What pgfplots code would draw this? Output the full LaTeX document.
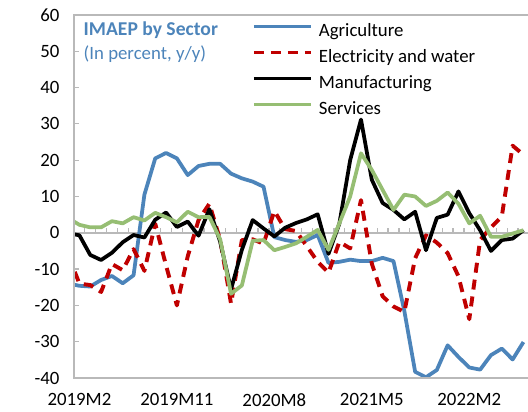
\documentclass[border=0pt]{standalone}
\usepackage{pgfplots}
\pgfplotsset{compat=1.18}
\usepackage{pgfplotstable}
\usepackage{fontspec}
\setmainfont{Carlito}
\definecolor{agri}{RGB}{76,132,186}
\definecolor{elec}{RGB}{192,0,0}
\definecolor{serv}{RGB}{150,190,115}
\definecolor{axgray}{RGB}{185,185,185}

% k = month index (0 = 2019M2); k=-1 is the partly visible previous month
\pgfplotstableread{
k agri elec manu serv
-1 -14.0 -6.4 -0.1 4.0
0 -14.6 -14.0 -0.7 2.2
1 -14.8 -14.4 -6.1 1.5
2 -13.0 -16.3 -7.5 1.5
3 -11.9 -8.6 -5.5 3.2
4 -13.9 -10.3 -2.6 2.6
5 -11.7 -4.5 -0.6 4.3
6 10.5 -10.5 -1.3 3.4
7 20.5 2.5 3.6 5.5
8 22.0 -9.0 5.6 4.3
9 20.5 -20.0 1.6 2.9
10 15.9 -6.5 3.1 5.8
11 18.4 3.5 -0.8 4.3
12 19.0 8.0 6.5 4.4
13 19.0 -2.0 -2.5 -1.8
14 16.3 -19.5 -15.6 -16.8
15 15.0 -2.0 -4.7 -14.5
16 14.1 -1.8 3.5 -2.2
17 12.7 -3.0 1.2 -2.0
18 -1.2 6.0 -1.0 -4.8
19 -2.0 1.0 1.4 -3.9
20 -2.5 0.5 2.7 -2.9
21 -2.0 -3.7 3.7 -1.1
22 -0.6 -8.0 5.1 0.8
23 -8.3 -11.0 -5.8 -4.7
24 -8.0 -2.5 2.5 2.6
25 -7.4 -4.3 20.0 10.0
26 -7.8 9.0 31.2 21.9
27 -7.8 -8.5 14.6 17.3
28 -6.9 -17.5 8.2 11.8
29 -7.8 -20.3 6.3 6.3
30 -21.5 -21.8 3.7 10.5
31 -38.3 -7.0 5.8 10.0
32 -39.8 -0.7 -4.8 7.4
33 -37.8 -2.7 4.1 8.8
34 -31.0 -5.6 5.0 11.1
35 -34.2 -12.0 11.4 8.0
36 -37.1 -23.8 5.4 2.6
37 -37.7 -2.0 0.7 4.7
38 -33.7 1.5 -5.0 -1.1
39 -31.9 4.5 -2.0 -1.1
40 -34.9 24.0 -1.6 -0.2
41 -30.1 21.5 0.7 0.7
}\data

\begin{document}
\begin{tikzpicture}
\path[use as bounding box] (-74bp,-34bp) rectangle (454bp,378bp);
\begin{axis}[
  name=ax, at={(0,0)}, anchor=south west,
  scale only axis, width=454bp, height=363bp,
  xmin=-0.5, xmax=41.42, ymin=-40, ymax=60,
  axis line style={draw=none},
  ytick={-40,-30,...,60},
  ytick pos=left,
  xtick={0,9,18,27,36},
  xticklabels={2019M2,2019M11,2020M8,2021M5,2022M2},
  xtick pos=bottom,
  x tick style={draw=none},
  tick align=inside,
  major tick length=5bp,
  y tick style={axgray, line width=1.2bp},
  extra y ticks={0}, extra y tick labels={},
  extra y tick style={grid=major},
  major grid style={axgray, line width=1.6bp},
  font=\fontsize{18.8bp}{22bp}\selectfont,
  tick label style={font=\fontsize{18.8bp}{22bp}\selectfont},
  /pgf/number format/assume math mode=true,
  yticklabel style={xshift=-11bp},
  xticklabel style={yshift=-12bp},
  legend style={at={(0,1)}, anchor=north west, xshift=178bp, yshift=-9bp,
    draw=none, fill=none, inner sep=0pt, outer sep=0pt,
    row sep=9bp, column sep=6bp,
    font=\fontsize{18.8bp}{22bp}\selectfont,
    nodes={inner sep=0pt, text height=13bp, text depth=4bp}},
  legend cell align=left,
  legend image code/.code={\draw[#1] (0bp,6bp) -- (57bp,6bp);},
  line join=round,
]
\pgfplotsinvokeforeach{0.5,1.5,...,40.5}{
  \draw[axgray, line width=1.3bp] (axis cs:#1,0) -- ([yshift=4.5bp]axis cs:#1,0);
}
\addplot[agri, line width=3.75bp] table[x=k, y=agri] {\data};
\addlegendentry{Agriculture}
\addplot[elec, line width=3.9bp, dash pattern=on 10bp off 7bp] table[x=k, y=elec] {\data};
\addlegendentry{Electricity and water}
\addplot[black, line width=3.75bp] table[x=k, y=manu] {\data};
\addlegendentry{Manufacturing}
\addplot[serv, line width=3.75bp] table[x=k, y=serv] {\data};
\addlegendentry{Services}
\end{axis}
\draw[axgray, line width=2bp] (ax.north east) -- (ax.north west) -- (ax.south west) -- (ax.south east);
\node[anchor=base west, inner sep=0pt, text=agri, font=\bfseries\fontsize{19.6bp}{23bp}\selectfont]
  at ([xshift=9.5bp, yshift=-20.5bp]ax.north west) {IMAEP by Sector};
\node[anchor=base west, inner sep=0pt, text=agri, font=\fontsize{18.8bp}{22bp}\selectfont]
  at ([xshift=9.5bp, yshift=-44.5bp]ax.north west) {(In percent, y/y)};
\end{tikzpicture}
\end{document}
